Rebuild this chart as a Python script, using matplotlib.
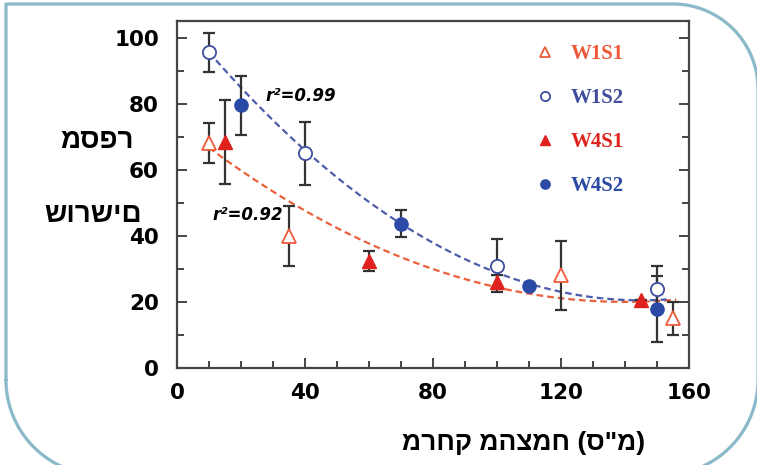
from matplotlib import pyplot as plt
from matplotlib.lines import Line2D
import numpy as np

# distance from plant (cm) / number of roots, four treatments
w1s1_x = [10, 35, 120, 155]
w1s1_y = [68, 40, 28, 15]
w1s1_err = [6, 9, 10.5, 5]

w1s2_x = [10, 40, 100, 150]
w1s2_y = [95.5, 65, 31, 24]
w1s2_err = [6, 9.5, 8, 7]

w4s1_x = [15, 60, 100, 145]
w4s1_y = [68.5, 32.5, 26, 20.5]
w4s1_err = [12.7, 3, 2, 0]

w4s2_x = [20, 70, 110, 150]
w4s2_y = [79.5, 43.7, 24.7, 17.8]
w4s2_err = [9, 4, 0, 10]

# quadratic trend lines (coefficients high -> low) and their x-range
fit_s1 = [0.00276, -0.7728, 74.1]
fit_s1_range = (10, 156)
fit_s1_label = "r²=0.92"
fit_s2 = [0.00412, -1.1948, 107.1]
fit_s2_range = (10, 153)
fit_s2_label = "r²=0.99"

x_ticks = [0, 40, 80, 120, 160]
y_ticks = [0, 20, 40, 60, 80, 100]
x_title = 'מרחק מהצמח (ס"מ)'
y_title = ["מספר", "שורשים"]

RED_LINE = "#e9603c"
RED_OPEN = "#ec5a3a"
RED_FILL = "#e0221e"
BLUE_LINE = "#4d5ca8"
BLUE_OPEN = "#3e4d9e"
BLUE_FILL = "#2b4aa6"
ERR = "#333333"

plt.rcParams["font.family"] = ["DejaVu Sans"]

fig = plt.figure(figsize=(7.57, 4.65), dpi=100, facecolor="white")

# rounded frame around the whole figure, in pixel coordinates
bg = fig.add_axes([0, 0, 1, 1], zorder=-1)
bg.set_xlim(0, 757)
bg.set_ylim(465, 0)
bg.axis("off")
t = np.linspace(0, np.pi / 2, 40)
fx = np.concatenate([[6, 6, 673], 673 + 85 * np.sin(t), [758], 663 + 95 * np.cos(t),
                     101 - 95 * np.sin(t)])
fy = np.concatenate([[380, 4, 4], 89 - 85 * np.cos(t), [380], 380 + 95 * np.sin(t),
                     380 + 95 * np.cos(t)])
bg.plot(fx, fy, color="#8ab9c9", lw=2.3, clip_on=False, solid_capstyle="round")

ax = fig.add_axes([0.2338, 0.2086, 0.6764, 0.7462])

# trend lines
for coef, (x0, x1), col in [(fit_s1, fit_s1_range, RED_LINE), (fit_s2, fit_s2_range, BLUE_LINE)]:
    xx = np.linspace(x0, x1, 200)
    ax.plot(xx, np.polyval(coef, xx), color=col, lw=1.6, ls=(0, (3, 1.8)), zorder=2)

ebkw = dict(ecolor=ERR, elinewidth=1.6, capsize=4, capthick=1.6, ls="none", zorder=3)
series = [
    (w1s1_x, w1s1_y, w1s1_err, "W1S1", dict(marker="^", ms=10, mfc="white", mec=RED_OPEN, mew=1.3)),
    (w1s2_x, w1s2_y, w1s2_err, "W1S2", dict(marker="o", ms=9.5, mfc="white", mec=BLUE_OPEN, mew=1.3)),
    (w4s1_x, w4s1_y, w4s1_err, "W4S1", dict(marker="^", ms=9.5, mfc=RED_FILL, mec=RED_FILL)),
    (w4s2_x, w4s2_y, w4s2_err, "W4S2", dict(marker="o", ms=9.5, mfc=BLUE_FILL, mec=BLUE_FILL)),
]
handles = []
for x, y, err, name, mk in series:
    ax.errorbar(x, y, yerr=err, **ebkw)
    ax.plot(x, y, ls="none", zorder=4, **mk)
    handles.append(Line2D([], [], ls="none", label=name, **mk))

leg = ax.legend(handles=handles, loc="upper left", bbox_to_anchor=(0.703, 0.934),
                frameon=False, markerscale=0.7, handlelength=0.8, handletextpad=0.8,
                labelspacing=1.16, borderpad=0, borderaxespad=0,
                prop=dict(family="Liberation Serif", weight="bold", size=15))
for txt, h in zip(leg.get_texts(), handles):
    txt.set_color(h.get_markeredgecolor())

ax.text(27.5, 82.4, fit_s2_label, fontsize=12, fontweight="bold", fontstyle="italic",
        va="center", ha="left")
ax.text(11.2, 46.4, fit_s1_label, fontsize=12, fontweight="bold", fontstyle="italic",
        va="center", ha="left")

ax.set_xlim(0, 160)
ax.set_ylim(0, 105)
ax.set_xticks(x_ticks)
ax.set_yticks(y_ticks)
ax.set_xticks(np.arange(0, 161, 10), minor=True)
ax.set_yticks(np.arange(0, 101, 10), minor=True)
ax.tick_params(which="both", direction="in", top=False, right=True, color="#444444", width=1.4)
ax.tick_params(which="major", length=7)
ax.tick_params(which="minor", length=5)
ax.tick_params(axis="x", pad=11, labelsize=15.5)
ax.tick_params(axis="y", pad=13, labelsize=15.5)
for lab in ax.get_xticklabels() + ax.get_yticklabels():
    lab.set_fontweight("bold")
for sp in ax.spines.values():
    sp.set_color("#444444")
    sp.set_linewidth(1.6)

# axis titles, hebrew
title_font = dict(fontweight="bold", family="Liberation Sans", ha="center", va="center")
fig.text(524 / 757, 1 - 443 / 465, x_title, fontsize=19, **title_font)
fig.text(97 / 757, 1 - 141 / 465, y_title[0], fontsize=20, **title_font)
fig.text(93 / 757, 1 - 215 / 465, y_title[1], fontsize=20, **title_font)

fig.savefig("out.png", dpi=100, facecolor="white")
